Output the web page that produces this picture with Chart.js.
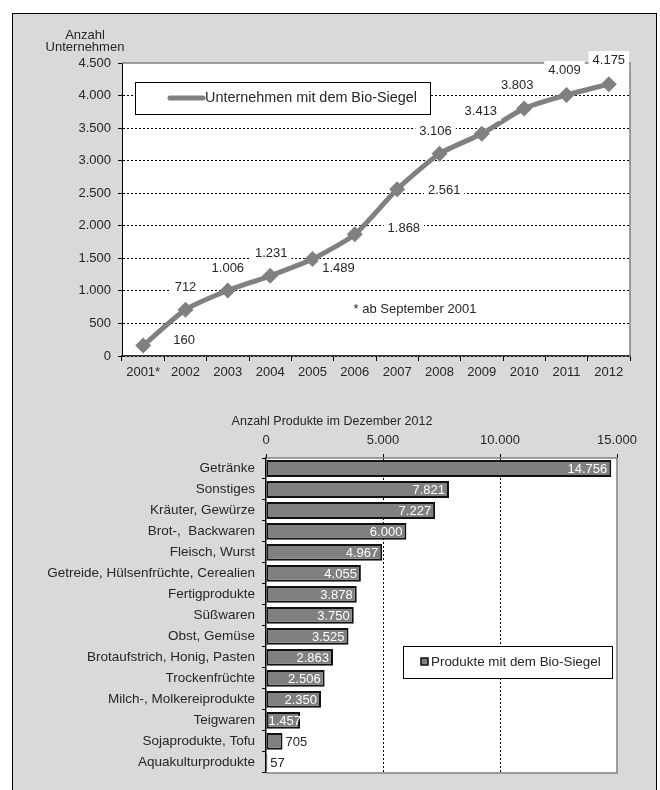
<!DOCTYPE html>
<html>
<head>
<meta charset="utf-8">
<script src="https://cdn.jsdelivr.net/npm/chart.js@4/dist/chart.umd.min.js"></script>
<style>
  html, body { margin: 0; padding: 0; background: #fff; }
  #frame { position: absolute; left: 12px; top: 13px; width: 645px; height: 790px; box-sizing: border-box;
           border: 1px solid #000; background: #d9d9d9; }
  canvas { position: absolute; }
  #c1 { left: 13px; top: 14px; }
  #c2 { left: 13px; top: 400px; }
</style>
</head>
<body>
<div id="frame"></div>
<canvas id="c1" width="642" height="380"></canvas>
<canvas id="c2" width="642" height="388"></canvas>
<script>
// Bio-Siegel: companies per year (line) + products per group (bars)

const years = ['2001*', '2002', '2003', '2004', '2005', '2006', '2007', '2008', '2009', '2010', '2011', '2012'];
const companies = [160, 712, 1006, 1231, 1489, 1868, 2561, 3106, 3413, 3803, 4009, 4175];

const groups = ['Getränke', 'Sonstiges', 'Kräuter, Gewürze', 'Brot-,  Backwaren', 'Fleisch, Wurst',
  'Getreide, Hülsenfrüchte, Cerealien', 'Fertigprodukte', 'Süßwaren', 'Obst, Gemüse',
  'Brotaufstrich, Honig, Pasten', 'Trockenfrüchte', 'Milch-, Molkereiprodukte', 'Teigwaren',
  'Sojaprodukte, Tofu', 'Aquakulturprodukte'];
const products = [14756, 7821, 7227, 6000, 4967, 4055, 3878, 3750, 3525, 2863, 2506, 2350, 1457, 705, 57];

const FONT = "'Liberation Sans', Arial, sans-serif";
const INK = '#262626';
const GREY = '#808080';

// where each value label sits relative to its point (dx, dy in px)
const labelShift = [[41, -5], [0, -22], [0, -22], [1, -22], [26, 9], [49, -6],
  [47, 1], [-4, -22], [-1, -22], [-7, -23], [-2, -25], [0, -24]];

Chart.defaults.font.family = FONT;
Chart.defaults.font.size = 12.5;
Chart.defaults.color = INK;

const fmt = (v) => Math.round(v).toLocaleString('de-DE');

const plotBg = {
  id: 'plotBg',
  beforeDraw(chart) {
    const { ctx, chartArea: a } = chart;
    ctx.save();
    ctx.fillStyle = '#fff';
    ctx.fillRect(a.left, a.top, a.right - a.left, a.bottom - a.top);
    ctx.restore();
  },
};

function textFont(size) { return size + 'px ' + FONT; }

// ---------- line chart ----------
const lineExtras = {
  id: 'lineExtras',
  afterDraw(chart) {
    const { ctx, chartArea: a } = chart;
    ctx.save();
    // plot border top / right
    ctx.strokeStyle = GREY;
    ctx.lineWidth = 1.5;
    ctx.beginPath();
    ctx.moveTo(a.left, a.top); ctx.lineTo(a.right, a.top); ctx.lineTo(a.right, a.bottom);
    ctx.stroke();

    ctx.font = textFont(13);
    ctx.fillStyle = INK;
    ctx.textAlign = 'center';
    ctx.textBaseline = 'middle';
    ctx.fillText('Anzahl', 72, 21);
    ctx.fillText('Unternehmen', 72, 33);
    ctx.fillText('* ab September 2001', 402, 295);

    // legend
    ctx.fillStyle = '#fff';
    ctx.fillRect(122, 68, 295, 32);
    ctx.strokeStyle = '#000';
    ctx.lineWidth = 1;
    ctx.strokeRect(122.5, 68.5, 295, 32);
    ctx.strokeStyle = GREY;
    ctx.lineWidth = 5;
    ctx.lineCap = 'round';
    ctx.beginPath(); ctx.moveTo(157, 84); ctx.lineTo(190, 84); ctx.stroke();
    ctx.font = textFont(14.4);
    ctx.fillStyle = INK;
    ctx.textAlign = 'left';
    ctx.fillText(chart.data.datasets[0].label, 192, 84);

    // value labels on white
    ctx.font = textFont(13);
    const meta = chart.getDatasetMeta(0);
    ctx.textAlign = 'center';
    meta.data.forEach((pt, i) => {
      const txt = fmt(companies[i]);
      const x = pt.x + labelShift[i][0];
      const y = pt.y + labelShift[i][1];
      const w = ctx.measureText(txt).width + 8;
      ctx.fillStyle = '#fff';
      ctx.fillRect(x - w / 2, y - 9, w, 18);
      ctx.fillStyle = INK;
      ctx.fillText(txt, x, y);
    });
    ctx.restore();
  },
};

new Chart(document.getElementById('c1'), {
  type: 'line',
  data: {
    labels: years,
    datasets: [{
      label: 'Unternehmen mit dem Bio-Siegel',
      data: companies,
      borderColor: GREY,
      backgroundColor: GREY,
      borderWidth: 5,
      tension: 0.2,
      pointStyle: 'rectRot',
      pointRadius: 8,
      pointBorderWidth: 0,
      pointBackgroundColor: GREY,
    }],
  },
  options: {
    responsive: false,
    animation: false,
    layout: { padding: { top: 49, right: 25, left: 0, bottom: 0 } },
    plugins: { legend: { display: false }, tooltip: { enabled: false } },
    scales: {
      x: {
        offset: true,
        afterFit: (s) => { s.height = 38; },
        grid: { offset: true, drawOnChartArea: false, tickLength: 5, tickColor: '#000' },
        border: { color: '#333', width: 1.5 },
        ticks: { padding: 4, color: INK, maxRotation: 0, autoSkip: false, font: { size: 13 } },
      },
      y: {
        min: 0, max: 4500,
        afterFit: (s) => { s.width = 109; },
        grid: {
          color: (c) => (c.tick && c.tick.value === 4500 ? 'transparent' : '#000'),
          tickColor: '#000', tickLength: 4, lineWidth: 1,
        },
        border: { color: '#000', width: 1, dash: [2, 2] },
        ticks: { stepSize: 500, padding: 7, color: INK, font: { size: 13 }, callback: (v) => fmt(v) },
      },
    },
  },
  plugins: [plotBg, lineExtras],
});

// ---------- bar chart ----------
const barExtras = {
  id: 'barExtras',
  afterDraw(chart) {
    const { ctx, chartArea: a } = chart;
    ctx.save();
    ctx.strokeStyle = GREY;
    ctx.lineWidth = 1.5;
    ctx.beginPath();
    ctx.moveTo(a.left, a.top); ctx.lineTo(a.right, a.top); ctx.lineTo(a.right, a.bottom); ctx.lineTo(a.left, a.bottom);
    ctx.stroke();

    ctx.font = textFont(12.5);
    ctx.textBaseline = 'middle';
    ctx.fillStyle = INK;
    ctx.textAlign = 'center';
    ctx.fillText('Anzahl Produkte im Dezember 2012', 319, 22);

    // legend
    ctx.fillStyle = '#fff';
    ctx.fillRect(390, 246, 209, 32);
    ctx.strokeStyle = '#000';
    ctx.lineWidth = 1;
    ctx.strokeRect(390.5, 246.5, 209, 32);
    ctx.fillStyle = GREY;
    ctx.fillRect(408, 258, 7, 7);
    ctx.strokeStyle = '#111';
    ctx.lineWidth = 1.5;
    ctx.strokeRect(408, 258, 7, 7);
    ctx.font = textFont(13.4);
    ctx.fillStyle = INK;
    ctx.textAlign = 'left';
    ctx.fillText(chart.data.datasets[0].label, 418, 262);

    // value labels: white inside the bar end, black outside for the tiny ones
    ctx.font = textFont(13);
    const meta = chart.getDatasetMeta(0);
    meta.data.forEach((bar, i) => {
      const txt = fmt(products[i]);
      const w = ctx.measureText(txt).width;
      const len = bar.x - bar.base;
      if (len > 28) {
        ctx.fillStyle = '#fff';
        ctx.textAlign = 'right';
        ctx.fillText(txt, Math.max(bar.x - 4, bar.base + 2 + w), bar.y + 1);
      } else {
        ctx.fillStyle = INK;
        ctx.textAlign = 'left';
        ctx.fillText(txt, bar.x + 3, bar.y + 1);
      }
    });
    ctx.restore();
  },
};

new Chart(document.getElementById('c2'), {
  type: 'bar',
  data: {
    labels: groups,
    datasets: [{
      label: 'Produkte mit dem Bio-Siegel',
      data: products,
      backgroundColor: GREY,
      borderColor: '#111',
      borderWidth: 2,
      borderSkipped: false,
      barPercentage: 0.8,
      categoryPercentage: 1,
    }],
  },
  options: {
    indexAxis: 'y',
    responsive: false,
    animation: false,
    layout: { padding: { top: 0, right: 38, left: 0, bottom: 6 } },
    plugins: { legend: { display: false }, tooltip: { enabled: false } },
    scales: {
      x: {
        position: 'top',
        min: 0, max: 15000,
        afterFit: (s) => { s.height = 58; },
        grid: {
          color: (c) => (c.tick && c.tick.value > 0 && c.tick.value < 15000 ? '#000' : 'transparent'),
          tickColor: '#000', tickLength: 4,
        },
        border: { display: false, dash: [2, 2] },
        ticks: { stepSize: 5000, padding: 6, color: INK, font: { size: 13 }, callback: (v) => fmt(v) },
      },
      y: {
        afterFit: (s) => { s.width = 253; },
        grid: { offset: true, drawOnChartArea: false, tickLength: 4, tickColor: '#000' },
        border: { color: '#000', width: 1.5 },
        ticks: { padding: 7, color: INK, autoSkip: false, font: { size: 13.5 } },
      },
    },
  },
  plugins: [plotBg, barExtras],
});
</script>
</body>
</html>
